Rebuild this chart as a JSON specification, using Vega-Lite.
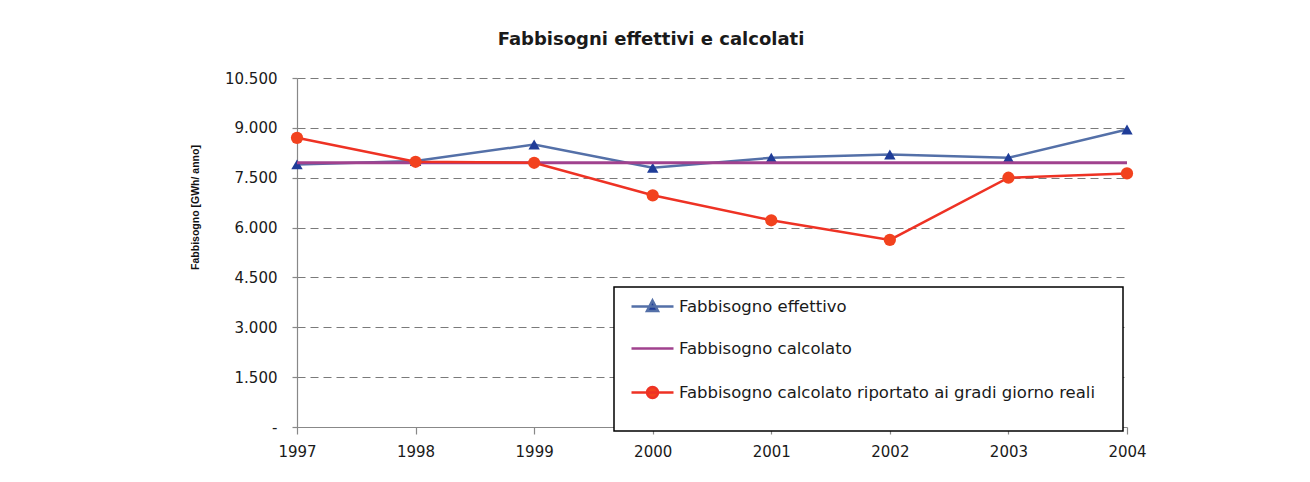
{
  "$schema": "https://vega.github.io/schema/vega-lite/v6.json",
  "width": 830,
  "height": 349,
  "autosize": "none",
  "padding": {"left": 297, "top": 78, "right": 183, "bottom": 55},
  "background": "white",
  "config": {"view": {"stroke": null}, "font": "DejaVu Sans"},
  "title": {
    "text": "Fabbisogni effettivi e calcolati",
    "font": "DejaVu Sans",
    "fontSize": 18,
    "fontWeight": "bold",
    "color": "#1a1a1a",
    "anchor": "middle",
    "frame": "group",
    "dx": -61,
    "offset": 22
  },
  "data": {
    "values": [
      {"series": "Fabbisogno effettivo", "year": 1997, "value": 7900},
      {"series": "Fabbisogno effettivo", "year": 1998, "value": 8000},
      {"series": "Fabbisogno effettivo", "year": 1999, "value": 8500},
      {"series": "Fabbisogno effettivo", "year": 2000, "value": 7800},
      {"series": "Fabbisogno effettivo", "year": 2001, "value": 8100},
      {"series": "Fabbisogno effettivo", "year": 2002, "value": 8200},
      {"series": "Fabbisogno effettivo", "year": 2003, "value": 8100},
      {"series": "Fabbisogno effettivo", "year": 2004, "value": 8950},
      {"series": "Fabbisogno calcolato", "year": 1997, "value": 7950},
      {"series": "Fabbisogno calcolato", "year": 1998, "value": 7950},
      {"series": "Fabbisogno calcolato", "year": 1999, "value": 7950},
      {"series": "Fabbisogno calcolato", "year": 2000, "value": 7950},
      {"series": "Fabbisogno calcolato", "year": 2001, "value": 7950},
      {"series": "Fabbisogno calcolato", "year": 2002, "value": 7950},
      {"series": "Fabbisogno calcolato", "year": 2003, "value": 7950},
      {"series": "Fabbisogno calcolato", "year": 2004, "value": 7950},
      {"series": "Fabbisogno calcolato riportato ai gradi giorno reali", "year": 1997, "value": 8700},
      {"series": "Fabbisogno calcolato riportato ai gradi giorno reali", "year": 1998, "value": 7980},
      {"series": "Fabbisogno calcolato riportato ai gradi giorno reali", "year": 1999, "value": 7950},
      {"series": "Fabbisogno calcolato riportato ai gradi giorno reali", "year": 2000, "value": 6970},
      {"series": "Fabbisogno calcolato riportato ai gradi giorno reali", "year": 2001, "value": 6220},
      {"series": "Fabbisogno calcolato riportato ai gradi giorno reali", "year": 2002, "value": 5630},
      {"series": "Fabbisogno calcolato riportato ai gradi giorno reali", "year": 2003, "value": 7500},
      {"series": "Fabbisogno calcolato riportato ai gradi giorno reali", "year": 2004, "value": 7630}
    ]
  },
  "encoding": {
    "x": {
      "field": "year",
      "type": "quantitative",
      "scale": {"domain": [1997, 2004], "nice": false, "zero": false},
      "axis": {
        "title": null,
        "values": [1997, 1998, 1999, 2000, 2001, 2002, 2003, 2004],
        "format": "d",
        "grid": false,
        "domainColor": "#888888",
        "domainWidth": 1.2,
        "tickColor": "#888888",
        "tickWidth": 1.2,
        "tickSize": 7,
        "labelPadding": 10,
        "labelFont": "DejaVu Sans",
        "labelFontSize": 15,
        "labelColor": "#1a1a1a",
        "labelFlush": false,
        "labelOverlap": false
      }
    },
    "y": {
      "field": "value",
      "type": "quantitative",
      "scale": {"domain": [0, 10500], "nice": false, "zero": true},
      "axis": {
        "title": "Fabbisogno [GWh/ anno]",
        "titleFont": "Liberation Sans",
        "titleFontSize": 10.5,
        "titleFontWeight": "bold",
        "titleColor": "#111111",
        "titleAngle": -90,
        "titleX": -102,
        "titleY": 129,
        "titleAlign": "center",
        "titleBaseline": "middle",
        "values": [0, 1500, 3000, 4500, 6000, 7500, 9000, 10500],
        "labelExpr": "datum.value == 0 ? '-' : replace(format(datum.value, ','), ',', '.')",
        "grid": true,
        "gridColor": "#7a7a7a",
        "gridDash": [8, 5],
        "gridWidth": 1.2,
        "domainColor": "#888888",
        "domainWidth": 1.2,
        "tickColor": "#888888",
        "tickWidth": 1.2,
        "tickSize": 5,
        "labelPadding": 15,
        "labelFont": "DejaVu Sans",
        "labelFontSize": 15,
        "labelColor": "#1a1a1a"
      }
    }
  },
  "layer": [
    {
      "transform": [{"filter": "datum.series == 'Fabbisogno effettivo'"}],
      "mark": {"type": "line", "strokeWidth": 2.5},
      "encoding": {
        "color": {
          "field": "series",
          "type": "nominal",
          "scale": {
            "domain": ["Fabbisogno effettivo", "Fabbisogno calcolato", "Fabbisogno calcolato riportato ai gradi giorno reali"],
            "range": ["#5470A8", "#A0428E", "#EE3224"]
          },
          "legend": {
            "orient": "none",
            "legendX": 317,
            "legendY": 209,
            "title": null,
            "direction": "vertical",
            "padding": 27.5,
            "rowPadding": 24,
            "symbolSize": 400,
            "labelOffset": 14.5,
            "labelFont": "DejaVu Sans",
            "labelFontSize": 16.5,
            "labelColor": "#1a1a1a",
            "labelLimit": 700,
            "strokeColor": "black",
            "fillColor": "white",
            "encode": {
              "legend": {"update": {"strokeWidth": {"value": 1.5}}},
              "labels": {"update": {"dy": {"value": -19.5}}},
              "symbols": {
                "update": {
                  "shape": {"signal": "datum.value === 'Fabbisogno effettivo' ? 'M-2.15,-1.95H2.05M-0.05,-2.55L0.5,-1.5H-0.6Z' : (datum.value === 'Fabbisogno calcolato' ? 'M-2.15,-1.95H2.05' : 'M-2.15,-1.95H2.05M0.5,-1.95A0.55,0.55,0,1,1,-0.6,-1.95A0.55,0.55,0,1,1,0.5,-1.95Z')"},
                  "fill": {"signal": "datum.value === 'Fabbisogno effettivo' ? '#1F3C98' : (datum.value === 'Fabbisogno calcolato' ? 'transparent' : '#F2421E')"},
                  "stroke": {"signal": "datum.value === 'Fabbisogno effettivo' ? '#5470A8' : (datum.value === 'Fabbisogno calcolato' ? '#A0428E' : '#EE3224')"},
                  "strokeWidth": {"value": 2.5},
                  "opacity": {"value": 1},
                  "fillOpacity": {"value": 1},
                  "strokeOpacity": {"value": 1}
                }
              }
            }
          }
        }
      }
    },
    {
      "transform": [{"filter": "datum.series == 'Fabbisogno effettivo'"}],
      "mark": {"type": "point", "shape": "triangle-up", "filled": true, "size": 130, "color": "#1F3C98", "opacity": 1}
    },
    {
      "transform": [{"filter": "datum.series == 'Fabbisogno calcolato'"}],
      "mark": {"type": "line", "strokeWidth": 3},
      "encoding": {"color": {"field": "series", "type": "nominal"}}
    },
    {
      "transform": [{"filter": "datum.series == 'Fabbisogno calcolato riportato ai gradi giorno reali'"}],
      "mark": {"type": "line", "strokeWidth": 2.5},
      "encoding": {"color": {"field": "series", "type": "nominal"}}
    },
    {
      "transform": [{"filter": "datum.series == 'Fabbisogno calcolato riportato ai gradi giorno reali'"}],
      "mark": {"type": "point", "shape": "circle", "filled": true, "size": 150, "color": "#F2421E", "opacity": 1}
    }
  ]
}
